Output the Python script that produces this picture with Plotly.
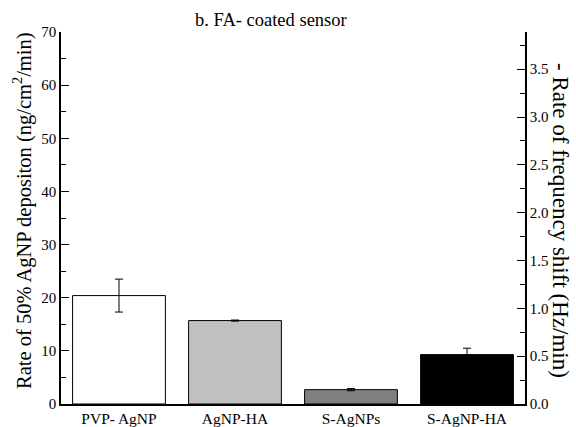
import plotly.graph_objects as go

categories = ["PVP- AgNP", "AgNP-HA", "S-AgNPs", "S-AgNP-HA"]
values = [20.4, 15.7, 2.7, 9.3]
errors = [3.1, 0.1, 0.2, 1.2]
colors = ["#ffffff", "#c0c0c0", "#808080", "#000000"]
left_ticks = [0, 10, 20, 30, 40, 50, 60, 70]
right_ticks = [0.0, 0.5, 1.0, 1.5, 2.0, 2.5, 3.0, 3.5]

FONT = "Liberation Serif"

fig = go.Figure()
fig.add_trace(go.Bar(
    x=categories, y=values,
    marker=dict(color=colors, line=dict(color="black", width=1)),
    error_y=dict(type="data", array=errors, color="black", thickness=1, width=4),
    showlegend=False, hoverinfo="skip",
))
fig.add_trace(go.Scatter(
    x=[categories[0]], y=[None], yaxis="y2", mode="markers",
    marker=dict(opacity=0), showlegend=False, hoverinfo="skip",
))

fig.update_layout(
    width=576, height=427,
    margin=dict(l=61, r=51, t=32, b=23),
    plot_bgcolor="white", paper_bgcolor="white",
    font=dict(family=FONT, size=14, color="black"),
    bargap=0.2,
    xaxis=dict(
        showline=True, linecolor="black", linewidth=1.5, ticks="",
        automargin=False,
        tickfont=dict(family=FONT, size=15.5), showgrid=False, zeroline=False,
        range=[-0.5, 3.5],
    ),
    yaxis=dict(
        range=[0, 70], tickvals=left_ticks, ticks="inside", ticklen=8,
        tickwidth=1.2, tickcolor="black", automargin=False,
        minor=dict(dtick=5, ticks="inside", ticklen=5, tickwidth=1.2, tickcolor="black", showgrid=False),
        showline=True, linecolor="black", linewidth=1.5, showgrid=False,
        zeroline=False, tickfont=dict(family=FONT, size=15),
    ),
    yaxis2=dict(
        overlaying="y", side="right", range=[0, 70 / 18],
        tickvals=right_ticks, ticktext=[f"{v:.1f}" for v in right_ticks],
        ticks="inside", ticklen=8, tickwidth=1.2, tickcolor="black", automargin=False,
        minor=dict(dtick=0.25, ticks="inside", ticklen=5, tickwidth=1.2, tickcolor="black", showgrid=False),
        showline=True, linecolor="black", linewidth=1.5, showgrid=False,
        zeroline=False, tickfont=dict(family=FONT, size=15),
    ),
    annotations=[
        dict(text="b. FA- coated sensor", xref="paper", yref="paper",
             x=(271 - 61) / 464, y=(404 - 20) / 372, showarrow=False,
             font=dict(family=FONT, size=18.5), xanchor="center", yanchor="middle"),
        dict(text="Rate of 50% AgNP depositon (ng/cm<sup>2</sup>/min)", xref="paper", yref="paper",
             x=(22 - 61) / 464, y=(404 - 211) / 372, showarrow=False, textangle=-90,
             font=dict(family=FONT, size=20.5), xanchor="center", yanchor="middle"),
        dict(text="- Rate of frequency shift (Hz/min)", xref="paper", yref="paper",
             x=(561 - 61) / 464, y=(404 - 220) / 372, showarrow=False, textangle=90,
             font=dict(family=FONT, size=23), xanchor="center", yanchor="middle"),
    ],
)

fig.write_html("out.html")
